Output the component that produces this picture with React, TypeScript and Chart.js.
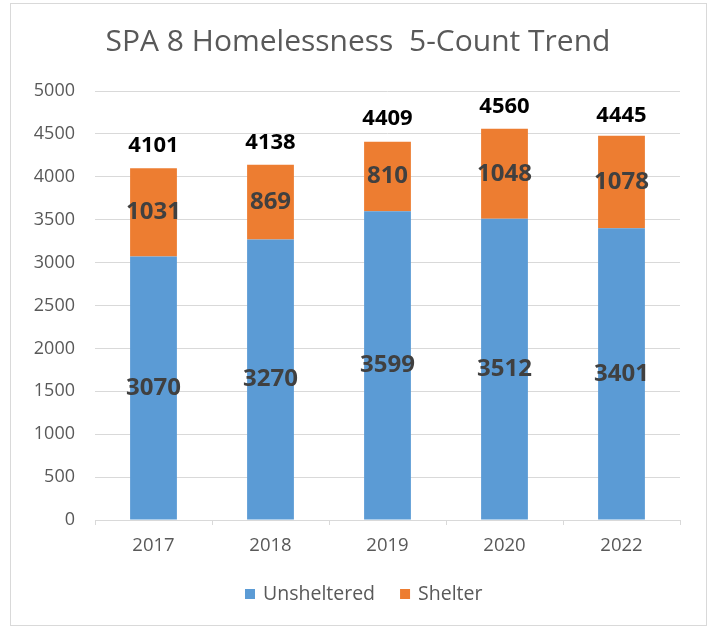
import React, { useEffect, useRef } from "react";
import { Chart, registerables } from "chart.js";

Chart.register(...registerables);

const chartTitle = "SPA 8 Homelessness  5-Count Trend";
const years = ["2017", "2018", "2019", "2020", "2022"];
const unsheltered = [3070, 3270, 3599, 3512, 3401];
const shelter = [1031, 869, 810, 1048, 1078];
const totals = [4101, 4138, 4409, 4560, 4445];
const seriesNames = ["Unsheltered", "Shelter"];
const seriesColors = ["#5B9BD5", "#ED7D31"];
const yMin = 0;
const yMax = 5000;
const yStep = 500;

const FONT = "'Open Sans', sans-serif";

const decorPlugin = {
  id: "decor",
  beforeDraw(chart: any) {
    const ctx = chart.ctx;
    ctx.save();
    ctx.fillStyle = "#ffffff";
    ctx.fillRect(0, 0, chart.width, chart.height);
    ctx.strokeStyle = "#d9d9d9";
    ctx.lineWidth = 1;
    ctx.strokeRect(10.5, 3.5, 696, 622);
    ctx.restore();
  },
  afterDraw(chart: any) {
    const ctx = chart.ctx;
    ctx.save();
    // title
    ctx.fillStyle = "#595959";
    ctx.font = `30px ${FONT}`;
    ctx.textAlign = "center";
    ctx.textBaseline = "middle";
    ctx.fillText(chartTitle, 358, 42);

    // inner labels
    ctx.font = `bold 24px ${FONT}`;
    ctx.fillStyle = "#404040";
    chart.data.datasets.forEach((ds: any, di: number) => {
      const meta = chart.getDatasetMeta(di);
      meta.data.forEach((el: any, i: number) => {
        const cy = (el.y + el.base) / 2;
        ctx.fillText(String(ds.data[i]), el.x, cy);
      });
    });

    // totals
    ctx.font = `bold 22px ${FONT}`;
    ctx.fillStyle = "#000000";
    const yScale = chart.scales.y;
    const meta0 = chart.getDatasetMeta(0);
    totals.forEach((t, i) => {
      const x = meta0.data[i].x;
      const y = yScale.getPixelForValue(t) - 22.5;
      ctx.fillText(String(t), x, y);
    });

    // legend
    ctx.font = `19.5px ${FONT}`;
    ctx.textAlign = "left";
    let lx = 245;
    const ly = 594;
    seriesNames.forEach((name, i) => {
      ctx.fillStyle = seriesColors[i];
      ctx.fillRect(lx, ly - 5, 10, 10);
      ctx.fillStyle = "#595959";
      ctx.fillText(name, lx + 18, ly);
      const w = ctx.measureText(name).width;
      lx = lx + 18 + w + 25;
    });
    ctx.restore();
  },
};

export default function App() {
  const ref = useRef<HTMLCanvasElement | null>(null);
  useEffect(() => {
    if (!ref.current) return;
    const chart = new Chart(ref.current, {
      type: "bar",
      data: {
        labels: years,
        datasets: [
          {
            label: seriesNames[0],
            data: unsheltered,
            backgroundColor: seriesColors[0],
            barPercentage: 0.4,
            categoryPercentage: 1,
          },
          {
            label: seriesNames[1],
            data: shelter,
            backgroundColor: seriesColors[1],
            barPercentage: 0.4,
            categoryPercentage: 1,
          },
        ],
      },
      options: {
        responsive: false,
        animation: false,
        layout: { padding: { left: 0, top: 91, right: 32, bottom: 58 } },
        plugins: {
          legend: { display: false },
          title: { display: false },
          tooltip: { enabled: false },
        },
        scales: {
          x: {
            stacked: true,
            afterFit: (s: any) => {
              s.height = 50;
            },
            grid: {
              offset: true,
              drawOnChartArea: false,
              drawTicks: true,
              tickLength: 5,
              color: "#d9d9d9",
            },
            border: { display: true, color: "#d9d9d9" },
            ticks: {
              color: "#595959",
              font: { family: FONT, size: 18.5 },
              padding: 10,
            },
          },
          y: {
            stacked: true,
            min: yMin,
            max: yMax,
            afterFit: (s: any) => {
              s.width = 95;
            },
            grid: { color: "#d9d9d9", drawTicks: false },
            border: { display: false },
            ticks: {
              stepSize: yStep,
              color: "#595959",
              font: { family: FONT, size: 18 },
              padding: 20,
              callback: (v: any) => String(v),
            },
          },
        },
      },
      plugins: [decorPlugin],
    });
    return () => chart.destroy();
  }, []);
  return (
    <div style={{ position: "fixed", left: 0, top: 0, width: 712, height: 628 }}>
      <canvas ref={ref} width={712} height={628} />
    </div>
  );
}
